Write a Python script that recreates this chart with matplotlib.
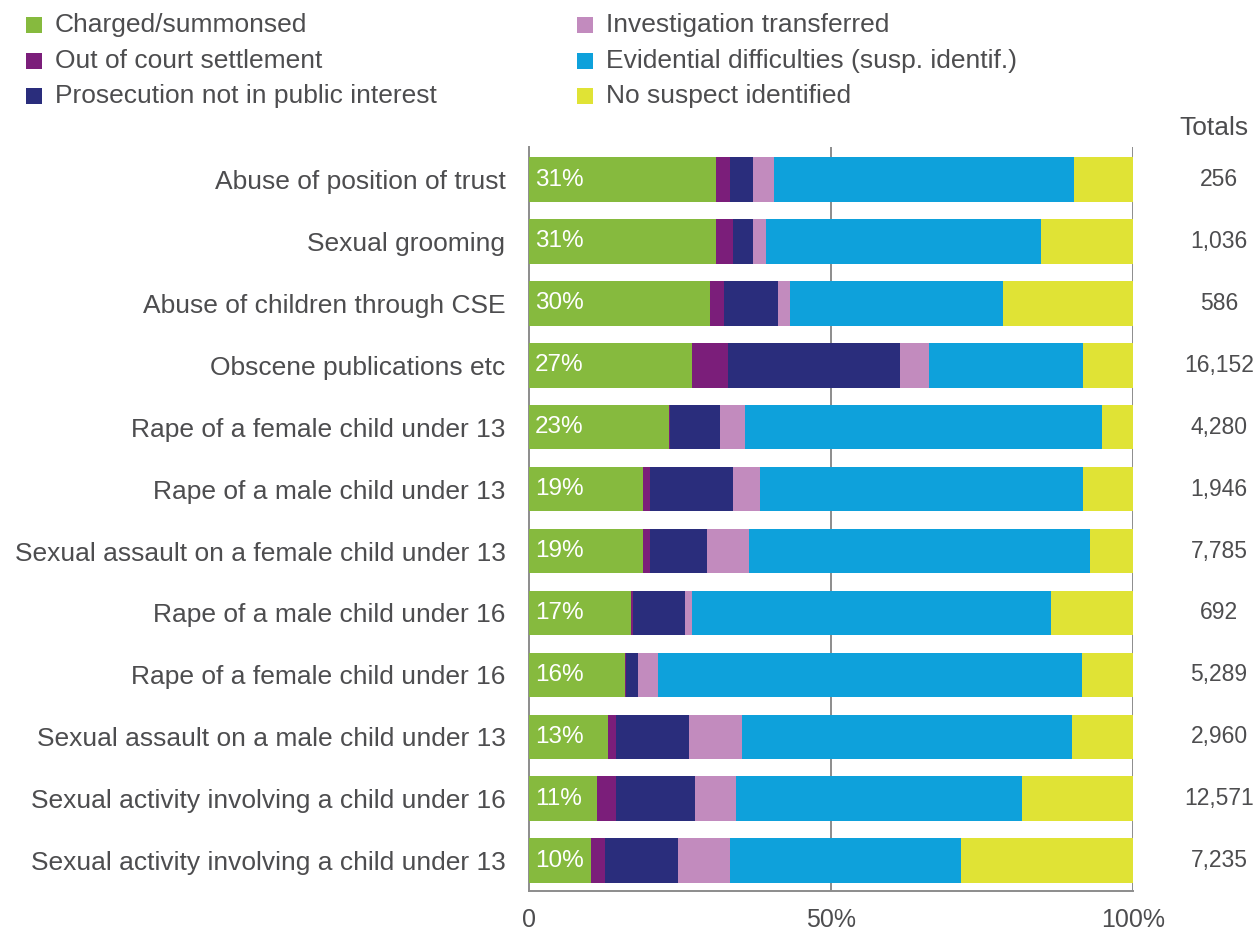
import matplotlib
matplotlib.use("Agg")
import matplotlib.pyplot as plt
from matplotlib.patches import Rectangle
import numpy as np

plt.rcParams['font.family'] = ['Liberation Sans', 'DejaVu Sans']

categories = [
    "Abuse of position of trust",
    "Sexual grooming",
    "Abuse of children through CSE",
    "Obscene publications etc",
    "Rape of a female child under 13",
    "Rape of a male child under 13",
    "Sexual assault on a female child under 13",
    "Rape of a male child under 16",
    "Rape of a female child under 16",
    "Sexual assault on a male child under 13",
    "Sexual activity involving a child under 16",
    "Sexual activity involving a child under 13",
]

charged      = [31.0, 30.9, 30.0, 27.0, 23.1, 18.9, 18.9, 16.9, 15.9, 13.1, 11.3, 10.3]
out_of_court = [2.3, 2.9, 2.3, 6.0, 0.2, 1.1, 1.1, 0.3, 0.1, 1.3, 3.1, 2.3]
not_public   = [3.8, 3.3, 9.0, 28.4, 8.4, 13.8, 9.5, 8.6, 2.1, 12.1, 13.1, 12.0]
transferred  = [3.4, 2.2, 1.9, 4.8, 4.1, 4.5, 7.0, 1.2, 3.3, 8.8, 6.8, 8.6]
evidential   = [49.7, 45.4, 35.2, 25.5, 59.0, 53.4, 56.3, 59.5, 70.1, 54.6, 47.4, 38.4]
no_suspect   = [9.8, 15.3, 21.6, 8.3, 5.2, 8.3, 7.2, 13.5, 8.5, 10.1, 18.3, 28.4]

charged_labels = ["31%", "31%", "30%", "27%", "23%", "19%", "19%", "17%", "16%", "13%", "11%", "10%"]
totals = ["256", "1,036", "586", "16,152", "4,280", "1,946", "7,785", "692", "5,289", "2,960", "12,571", "7,235"]

series_names = ["Charged/summonsed", "Out of court settlement", "Prosecution not in public interest",
                "Investigation transferred", "Evidential difficulties (susp. identif.)", "No suspect identified"]
series = [charged, out_of_court, not_public, transferred, evidential, no_suspect]
colors = ["#86BA3E", "#7B1E7A", "#2A2D7C", "#C28BBE", "#0EA1DB", "#E0E335"]

TEXT = "#4D4D4F"
W, H = 1255, 932
fig = plt.figure(figsize=(W / 100, H / 100), dpi=100)
ax = fig.add_axes([529 / W, 1 - 891 / H, (1133 - 529) / W, (891 - 147) / H])

y = np.arange(len(categories))
left = np.zeros(len(categories))
for vals, c in zip(series, colors):
    v = np.array(vals)
    ax.barh(y, v, left=left, height=0.72, color=c, edgecolor='none', zorder=3)
    left += v

ax.set_xlim(0, 100)
ax.set_ylim(11.49, -0.525)

for i, lab in enumerate(charged_labels):
    ax.text(1.0, i, lab, color='white', fontsize=17.5, va='center', ha='left', zorder=4)

ax.set_yticks(y)
ax.set_yticklabels(categories, fontsize=19, color=TEXT)
ax.tick_params(axis='y', length=0, pad=17)
ax.set_xticks([0, 50, 100])
ax.set_xticklabels(["0", "50%", "100%"], fontsize=18, color=TEXT)
ax.tick_params(axis='x', length=0, pad=12)

for x in [50, 100]:
    ax.axvline(x, color='#8C8C8C', lw=1.4, zorder=1)
for s in ['top', 'right']:
    ax.spines[s].set_visible(False)
for s in ['left', 'bottom']:
    ax.spines[s].set_color('#8C8C8C')
    ax.spines[s].set_linewidth(1.4)

# totals column
fig.text(1214 / W, 1 - 128 / H, "Totals", fontsize=19, color=TEXT, ha='center', va='center')
for i, t in enumerate(totals):
    ax.text(1.0 + (1219 - 1133) / (1133 - 529), i, t, transform=ax.get_yaxis_transform(),
            fontsize=16.5, color=TEXT, ha='center', va='center')

# legend
leg_pos = [(26, 25), (26, 61), (26, 96), (577, 25), (577, 61), (577, 96)]
sq = 16
for (lx, ly), name, c in zip(leg_pos, series_names, colors):
    fig.add_artist(Rectangle((lx / W, 1 - (ly + sq / 2) / H), sq / W, sq / H,
                             transform=fig.transFigure, color=c, lw=0))
    fig.text((lx + 29) / W, 1 - ly / H, name, fontsize=19, color=TEXT, ha='left', va='center')

fig.savefig("out.png", dpi=100)
